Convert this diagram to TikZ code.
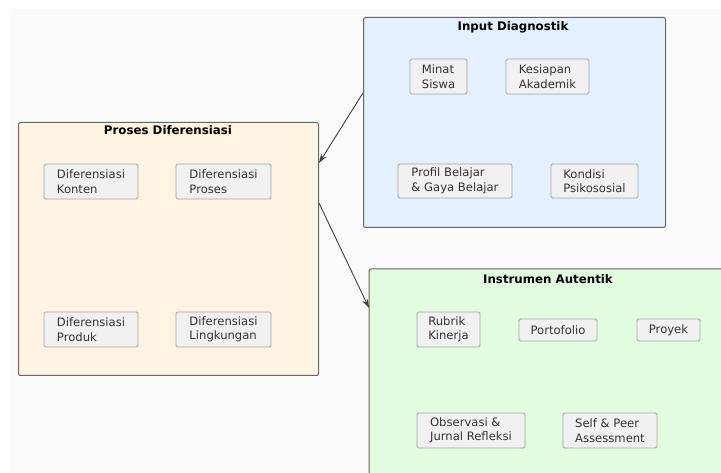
\documentclass[tikz,border=0pt]{standalone}
\usepackage{fontspec}
\setmainfont{DejaVu Sans}
\usetikzlibrary{arrows.meta}
\definecolor{bluefill}{HTML}{E4F0FE}
\definecolor{orangefill}{HTML}{FFF3E2}
\definecolor{greenfill}{HTML}{E2FCE0}
\definecolor{subfill}{HTML}{F1F1F1}
\definecolor{subline}{HTML}{A4A4A4}
\definecolor{frameline}{HTML}{666666}
\definecolor{txt}{HTML}{333333}
\definecolor{bg}{HTML}{FAFAFA}
\tikzset{
  container/.style={draw=frameline, line width=1pt, rounded corners=2pt, anchor=north west, inner sep=0pt},
  title/.style={font=\fontsize{11.8}{13}\selectfont\bfseries, text=black},
  item/.style={draw=subline, fill=subfill, line width=0.8pt, rounded corners=1.5pt, align=left,
    font=\fontsize{11.6}{14.5}\selectfont, text=txt, inner sep=0pt},
  conn/.style={draw=black!75, line width=0.9pt, -{Stealth[length=9pt,width=6pt]}}
}
\begin{document}
\begin{tikzpicture}[x=1pt,y=-1pt]
\useasboundingbox (0,0) rectangle (721,473);
\fill[white] (0,0) rectangle (721,473);
\fill[bg] (11,9) rectangle (721,473);

% Input Diagnostik
\node[container, fill=bluefill, minimum width=302pt, minimum height=210pt] (inp) at (363,17) {};
\node[title] (inpt) at (513,27) {Input Diagnostik};
\node[item, minimum width=57pt, minimum height=35pt] (minat) at (438.5,76.5) {Minat\\Siswa};
\node[item, minimum width=83pt, minimum height=35pt] (kes) at (547.5,76.5) {Kesiapan\\Akademik};
\node[item, minimum width=114pt, minimum height=34pt] (prof) at (455,181) {Profil Belajar\\\& Gaya Belajar};
\node[item, minimum width=87pt, minimum height=34pt] (kond) at (594.5,181) {Kondisi\\Psikososial};

% Proses Diferensiasi
\node[container, fill=orangefill, minimum width=300pt, minimum height=253pt] (pro) at (18,122) {};
\node[title] (prot) at (168,130) {Proses Diferensiasi};
\node[item, minimum width=94pt, minimum height=35pt] (konten) at (91,181.5) {Diferensiasi\\Konten};
\node[item, minimum width=95pt, minimum height=35pt] (proses) at (223.5,181.5) {Diferensiasi\\Proses};
\node[item, minimum width=94pt, minimum height=35pt] (produk) at (91,329.5) {Diferensiasi\\Produk};
\node[item, minimum width=95pt, minimum height=35pt] (lingk) at (223.5,329.5) {Diferensiasi\\Lingkungan};

% Instrumen Autentik
\fill[greenfill] (369,269) rectangle (730,480);
\draw[draw=frameline, line width=1pt, rounded corners=2pt]
  (369,480) -- (369,269) -- (730,269);
\coordinate (insl) at (369,308);
\node[title] (inst) at (548,279) {Instrumen Autentik};
\node[item, minimum width=63pt, minimum height=35pt] (rubrik) at (448.5,329.5) {Rubrik\\Kinerja};
\node[item, minimum width=78pt, minimum height=22pt] (porto) at (558,330) {Portofolio};
\node[item, minimum width=63pt, minimum height=22pt] (proyek) at (668.5,330) {Proyek};
\node[item, minimum width=108pt, minimum height=35pt] (obs) at (471,430.5) {Observasi \&\\Jurnal Refleksi};
\node[item, minimum width=94pt, minimum height=35pt] (self) at (610,430.5) {Self \& Peer\\Assessment};

% connectors
\draw[conn] (inp.west |- 0,93) -- (pro.east |- 0,163);
\draw[conn] (pro.east |- 0,203) -- (insl);
\end{tikzpicture}
\end{document}
